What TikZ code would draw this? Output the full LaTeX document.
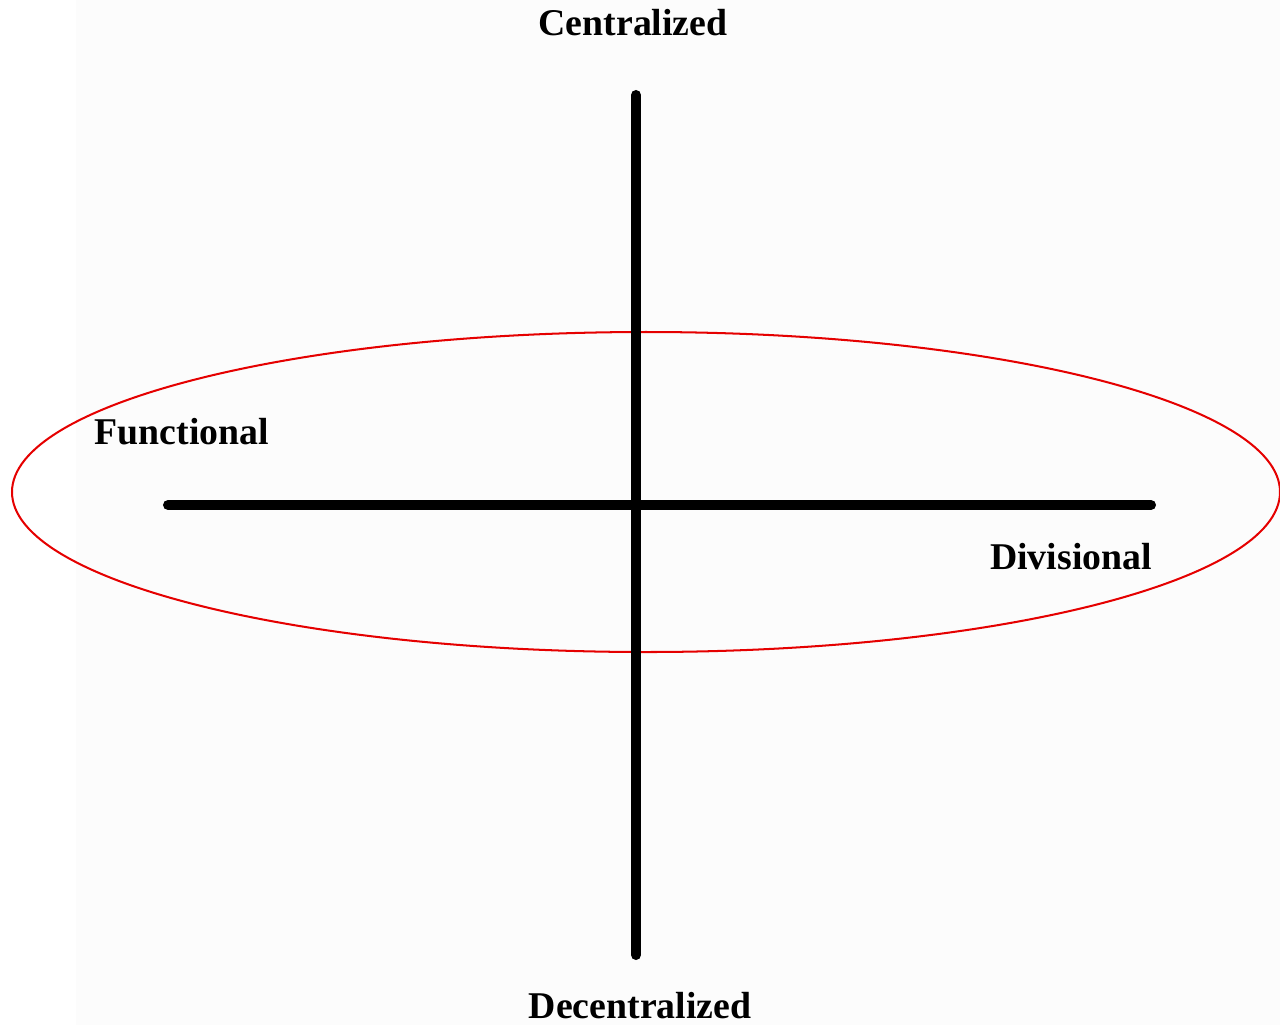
\documentclass[tikz,border=0pt]{standalone}
\usepackage{fontspec}
\setmainfont{Liberation Serif}
\usepackage{xcolor}
\usepackage{tikz}

\begin{document}
\begin{tikzpicture}[
  x=0.02cm, y=-0.02cm,
  font=\bfseries\fontsize{21.5}{24}\selectfont,
  label/.style={inner sep=0pt, text=black},
  axis/.style={line width=5.7pt, line cap=round, draw=black},
  group/.style={line width=1.15pt, draw=red!90!black}
]
  \useasboundingbox (0,0) rectangle (1280,1025);
  \fill[white!99!black] (76,0) rectangle (1280,1025);

  % ends of the two axes
  \coordinate (top) at (636,95);
  \coordinate (bottom) at (636,955);
  \coordinate (left) at (168,505);
  \coordinate (right) at (1151,505);

  \draw[group] (646,492) ellipse [x radius=634, y radius=160];

  \draw[axis] (top) -- (bottom);
  \draw[axis] (left) -- (right);

  \node[label] (centralized) at (633,23) {Centralized};
  \node[label] (decentralized) at (640,1006) {Decentralized};
  \node[label] (functional) at (182,432) {Functional};
  \node[label] (divisional) at (1071,557) {Divisional};
\end{tikzpicture}
\end{document}
